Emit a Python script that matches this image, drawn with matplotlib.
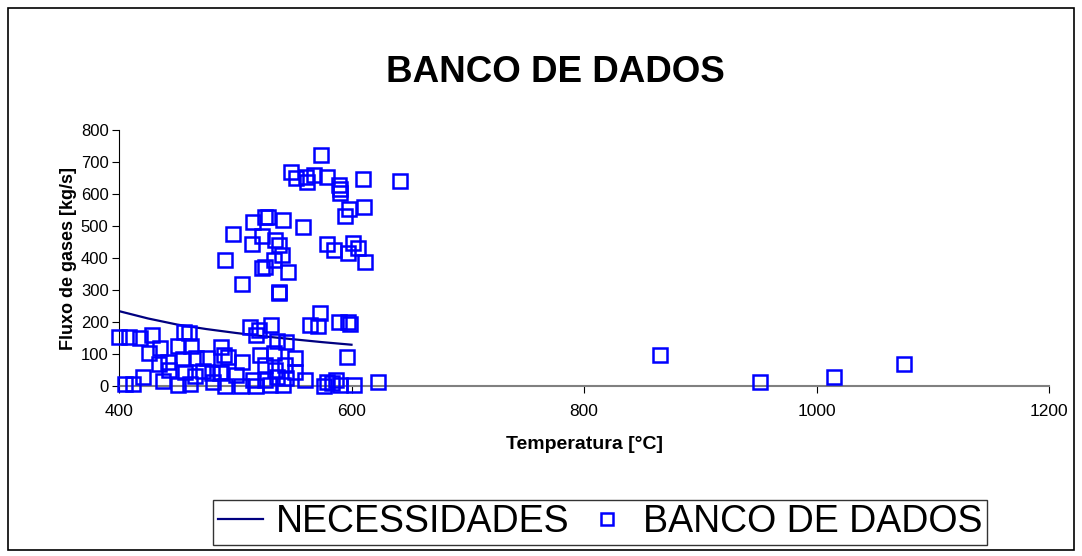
import matplotlib
matplotlib.use("Agg")
import matplotlib.pyplot as plt
from matplotlib.patches import Rectangle

plt.rcParams['font.family'] = ['Liberation Sans', 'DejaVu Sans']

# NECESSIDADES curve
nec_x = [400, 425, 450, 475, 500, 525, 550, 575, 600]
nec_y = [234, 211, 192, 178, 166, 155, 146, 137, 129]

# BANCO DE DADOS points (temperature, flow)
db_x = [
    574, 548, 552, 562, 568, 561, 579, 589, 590, 590, 610, 642,
    526, 528, 515, 541, 558, 498, 523, 514, 534, 538, 540, 491,
    533, 523, 526, 545, 506, 538, 538, 598, 594, 611, 579, 585,
    597, 601, 606, 612,
    573, 564, 571, 589, 597, 599, 596, 623,
    400, 409, 418, 428, 456, 460, 513, 520, 518, 531, 536, 544,
    435, 426, 451, 462, 488, 442, 434, 455, 466, 476, 490, 494,
    506, 521, 533, 551, 526, 543, 534, 487, 465, 421, 405, 412,
    438, 443, 451, 457, 461, 472, 480, 481, 491, 488, 501, 515,
    526, 536, 544, 551, 505, 518, 530, 541, 560, 576, 579, 587,
    590, 602, 583,
    865, 951, 1015, 1075,
]
db_y = [
    722, 670, 650, 637, 659, 654, 652, 628, 602, 615, 646, 641,
    529, 528, 513, 519, 498, 474, 469, 444, 456, 440, 409, 394,
    394, 368, 373, 357, 318, 295, 290, 552, 531, 560, 444, 425,
    417, 446, 430, 388,
    227, 190, 187, 201, 201, 194, 90, 13,
    154, 154, 149, 159, 170, 167, 185, 175, 159, 190, 142, 136,
    118, 102, 125, 125, 123, 76, 69, 83, 86, 86, 97, 92,
    76, 97, 104, 89, 66, 66, 50, 42, 31, 29, 6, 6,
    17, 50, 3, 45, 6, 48, 40, 13, 0, 45, 34, 19,
    19, 29, 24, 45, 0, 0, 3, 3, 19, 0, 13, 19,
    3, 3, 8,
    97, 12, 28, 69,
]

W, H = 1082, 556
fig = plt.figure(figsize=(W / 100, H / 100), dpi=100)
fig.patches.append(Rectangle((8 / W, 1 - 550 / H), (1074 - 8) / W, (550 - 8) / H,
                             transform=fig.transFigure, fill=False,
                             edgecolor='black', linewidth=1.2))

ax = fig.add_axes([119 / W, 1 - 386 / H, (1049 - 119) / W, (386 - 130) / H])
ax.plot(nec_x, nec_y, color='#000080', linewidth=1.6, label='NECESSIDADES', zorder=2)
ax.plot(db_x, db_y, linestyle='none', marker='s', markersize=10,
        markerfacecolor='none', markeredgecolor='#0000FF', markeredgewidth=1.8,
        label='BANCO DE DADOS', zorder=3, clip_on=False)

ax.set_xlim(400, 1200)
ax.set_ylim(0, 800)
ax.set_xticks([400, 600, 800, 1000, 1200])
ax.set_yticks(range(0, 801, 100))
ax.spines['top'].set_visible(False)
ax.spines['right'].set_visible(False)
ax.spines['bottom'].set_color('#808080')
ax.spines['bottom'].set_linewidth(1.5)
ax.spines['left'].set_color('black')
ax.tick_params(axis='x', labelsize=12.5, direction='out', length=5, pad=8)
ax.tick_params(axis='y', labelsize=12, direction='out', length=5, pad=2.5)
ax.set_xlabel('Temperatura [°C]', fontsize=14, fontweight='bold', labelpad=12)
ax.set_ylabel('Fluxo de gases [kg/s]', fontsize=13, fontweight='bold', labelpad=3)

fig.text(555 / W, 1 - 73 / H, 'BANCO DE DADOS', ha='center', va='center',
         fontsize=26.5, fontweight='bold')

leg = fig.legend(loc='center', bbox_to_anchor=(600 / W, 1 - 522 / H),
                 ncol=2, fontsize=27, frameon=True, fancybox=False,
                 edgecolor='black', handlelength=1.2, handletextpad=0.35,
                 columnspacing=0.4, borderpad=0.12, borderaxespad=0.2,
                 markerscale=0.8)
leg.get_frame().set_linewidth(1.0)

fig.savefig('out.png', dpi=100)
